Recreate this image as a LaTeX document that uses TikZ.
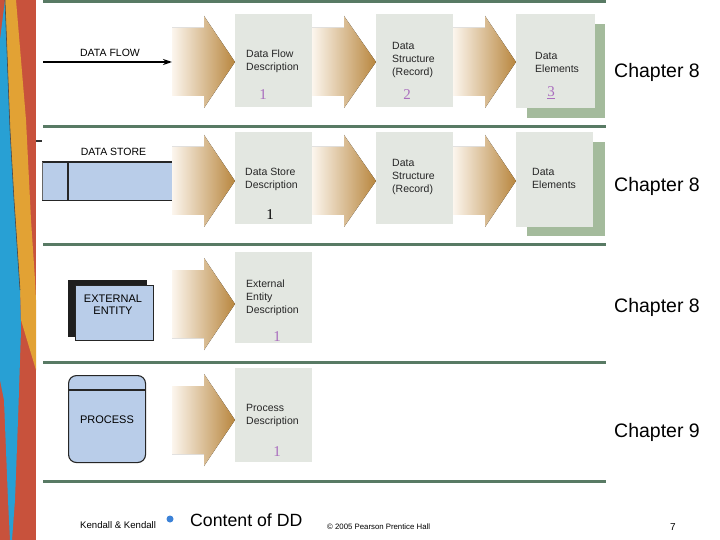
\documentclass[tikz,border=0pt]{standalone}
\usepackage{fontspec}
\setmainfont{Liberation Sans}
\newfontfamily\numfont{Liberation Serif}
\usetikzlibrary{arrows.meta}

\definecolor{rulegreen}{RGB}{88,122,100}
\definecolor{boxfill}{RGB}{227,231,225}
\definecolor{shadowfill}{RGB}{164,187,156}
\definecolor{storefill}{RGB}{185,205,233}
\definecolor{numpurple}{RGB}{170,110,190}
\definecolor{tanL}{RGB}{252,246,238}
\definecolor{tanR}{RGB}{184,134,62}
\definecolor{stripred}{RGB}{200,82,60}
\definecolor{stripblue}{RGB}{40,160,212}
\definecolor{striporange}{RGB}{226,162,52}
\definecolor{dotblue}{RGB}{60,130,215}

\newcommand\bigarrow[3]{%
  \fill[left color=tanL, right color=tanR]
    (#1,{#3-34}) -- ({#1+32},{#3-34}) -- ({#1+32},{#3-46}) -- (#2,#3)
    -- ({#1+32},{#3+46}) -- ({#1+32},{#3+34}) -- (#1,{#3+34}) -- cycle;}

\tikzset{
  descbox/.style={fill=boxfill, inner sep=0, anchor=north west},
  shadowbox/.style={fill=shadowfill, inner sep=0, anchor=north west},
  desctext/.style={inner sep=0, anchor=north west, align=left, text=black!85,
    font=\fontsize{10.5}{13}\selectfont},
  symtext/.style={inner sep=0, font=\fontsize{10.5}{12.5}\selectfont},
  numtxt/.style={inner sep=0, anchor=base, font=\numfont\fontsize{15}{15}\selectfont, text=numpurple},
  chaptxt/.style={inner sep=0, anchor=base west, font=\fontsize{19.5}{20}\selectfont},
  rule/.style={draw=rulegreen, line width=3pt},
  symbox/.style={draw=black!85, line width=1.1pt, fill=storefill, inner sep=0, anchor=north west},
}

\begin{document}
\begin{tikzpicture}[x=1pt,y=-1pt]
\useasboundingbox (0,0) rectangle (720,540);
\fill[white] (0,0) rectangle (720,540);

% decorative strip
\fill[stripred] (0,0) rectangle (36,540);
\fill[striporange] (5,0) -- (16,0) -- (26,120) -- (31,220) -- (35,280) -- (36,300) -- (36,370)
  -- (30,350) -- (21,320) -- (20,290) -- (14,200) -- (10,130) -- cycle;
\fill[stripblue] (0,40) -- (5,0) -- (10,130) -- (14,200) -- (20,290) -- (21,330) -- (18,420)
  -- (15,500) -- (12,540) -- (10,540) -- (8,500) -- (4,400) -- (0,380) -- cycle;
\draw[black!70, line width=0.6pt] (5,0) -- (10,130) -- (14,200) -- (20,290);
\draw[line width=2pt, black!80] (36,141) -- (42,141);

% rules
\foreach \yy in {1.5,126.5,244.5,362.5,481} {\draw[rule] (43,\yy) -- (606,\yy);}

% ---------- Row 1: data flow
\node[symtext, anchor=base] (dflbl) at (110,57) {DATA FLOW};
\coordinate (dfstart) at (43,62);
\coordinate (dfend) at (172,62);
\draw[line width=1.3pt, -{Stealth[length=9pt,width=6pt]}] (dfstart) -- (dfend);
\bigarrow{172}{235}{62}
\node[descbox, minimum width=77, minimum height=93] (fd) at (235,14) {};
\node[desctext] (fdt) at (246,49.5) {Data Flow\\Description};
\node[numtxt] (fdn) at (263,100) {1};
\bigarrow{312}{376}{62}
\node[descbox, minimum width=77, minimum height=93] (ds1) at (376,14) {};
\node[desctext] (ds1t) at (392,42.5) {Data\\Structure\\(Record)};
\node[numtxt] (ds1n) at (407,100) {2};
\bigarrow{453}{516}{62}
\node[shadowbox, minimum width=78, minimum height=94] (de1s) at (527,24) {};
\node[descbox, minimum width=79, minimum height=94] (de1) at (516,14) {};
\node[desctext] (de1t) at (535,52.5) {Data\\Elements};
\node[numtxt] (de1n) at (551,97) {\underline{3}};
\node[chaptxt] (ch1) at (614,78) {Chapter 8};

% ---------- Row 2: data store
\node[symtext, anchor=base] (dslbl) at (113.5,156) {DATA STORE};
\node[fill=storefill, inner sep=0, anchor=north west, minimum width=130, minimum height=38] (store) at (42,162) {};
\draw[black!85, line width=1.1pt] (store.north east) -- (store.north west);
\draw[black!85, line width=1.1pt] (store.south east) -- (store.south west);
\draw[black!60, line width=0.8pt] (store.north west) -- (store.south west);
\draw[black!85, line width=1.1pt] ([xshift=26]store.north west) -- ([xshift=26]store.south west);
\bigarrow{172}{235}{181}
\node[descbox, minimum width=77, minimum height=92] (dsd) at (235,132) {};
\node[desctext] (dsdt) at (245,167.5) {Data Store\\Description};
\node[numtxt, text=black] (dsdn) at (270,220) {1};
\bigarrow{312}{376}{181}
\node[descbox, minimum width=77, minimum height=92] (ds2) at (376,132) {};
\node[desctext] (ds2t) at (392,159.5) {Data\\Structure\\(Record)};
\bigarrow{453}{516}{181}
\node[shadowbox, minimum width=78, minimum height=94] (de2s) at (527,142) {};
\node[descbox, minimum width=77, minimum height=95] (de2) at (516,132) {};
\node[desctext] (de2t) at (532,168.5) {Data\\Elements};
\node[chaptxt] (ch2) at (614,192) {Chapter 8};

% ---------- Row 3: external entity
\node[fill=black!88, inner sep=0, anchor=north west, minimum width=79, minimum height=57] (eeback) at (68,280) {};
\node[symbox, minimum width=78, minimum height=55] (ee) at (75,285) {};
\node[symtext, align=center, anchor=north, font=\fontsize{11}{12}\selectfont] (eet) at (113,295) {EXTERNAL\\ENTITY};
\bigarrow{172}{235}{304}
\node[descbox, minimum width=77, minimum height=91] (eed) at (235,252) {};
\node[desctext] (eedt) at (246,279.5) {External\\Entity\\Description};
\node[numtxt] (eedn) at (277,341) {1};
\node[chaptxt] (ch3) at (614,312) {Chapter 8};

% ---------- Row 4: process
\node[symbox, rounded corners=8pt, minimum width=77, minimum height=87] (proc) at (68,375) {};
\draw[black!85, line width=1.1pt] ([yshift=-15]proc.north west) -- ([yshift=-15]proc.north east);
\node[symtext, anchor=base, font=\fontsize{11}{12}\selectfont] (proct) at (107,423) {PROCESS};
\bigarrow{172}{235}{420}
\node[descbox, minimum width=77, minimum height=94] (pd) at (235,368) {};
\node[desctext] (pdt) at (246,404.5) {Process\\Description};
\node[numtxt] (pdn) at (277,456) {1};
\node[chaptxt] (ch4) at (614,437) {Chapter 9};

% ---------- footer
\node[inner sep=0, anchor=base west, font=\fontsize{9.6}{10}\selectfont] (kk) at (80,528) {Kendall \& Kendall};
\fill[dotblue] (170,519) circle (3.5);
\node[inner sep=0, anchor=base west, font=\fontsize{17.7}{18}\selectfont] (cdd) at (190,526) {Content of DD};
\node[inner sep=0, anchor=base west, font=\fontsize{7.8}{8}\selectfont] (copy) at (327,529) {© 2005 Pearson Prentice Hall};
\node[inner sep=0, anchor=base west, font=\fontsize{10}{10}\selectfont] (pg) at (670,530) {7};
\end{tikzpicture}
\end{document}
